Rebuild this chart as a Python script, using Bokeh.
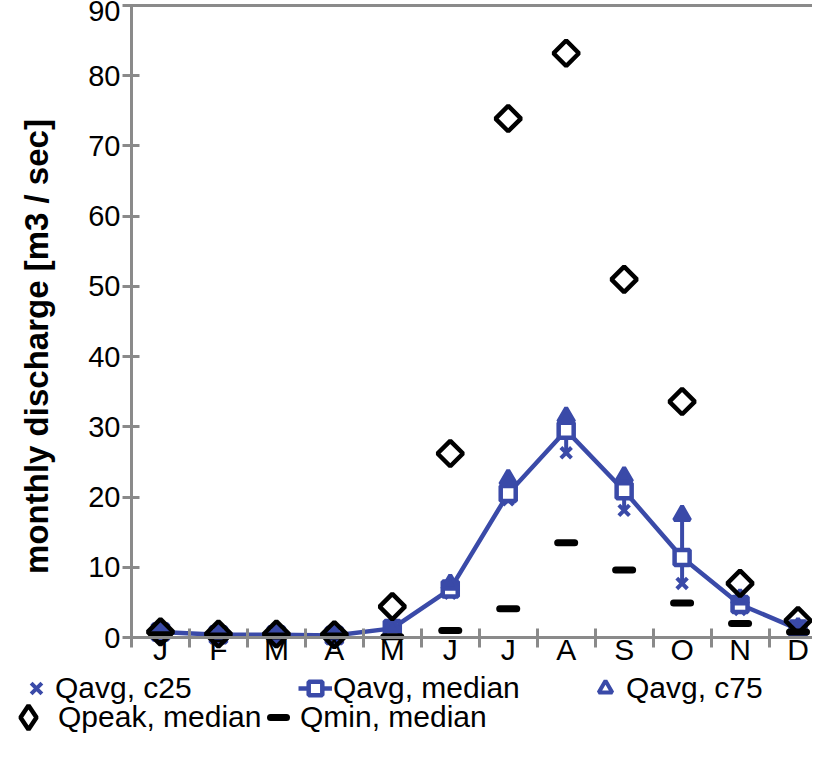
import math
from bokeh.plotting import figure
from bokeh.models import (FixedTicker, Legend, LegendItem, ColumnDataSource, Label,
                          Range1d, LinearAxis)
from bokeh.embed import file_html
from bokeh.resources import INLINE

# ---- data ----
months = ["J", "F", "M", "A", "M", "J", "J", "A", "S", "O", "N", "D"]
month_idx = [1, 2, 3, 4, 5, 6, 7, 8, 9, 10, 11, 12]
qavg_c25 = [0.6, 0.3, 0.3, 0.2, 1.0, 6.3, 19.6, 26.3, 18.1, 7.7, 4.0, 0.9]
qavg_median = [0.8, 0.4, 0.4, 0.3, 1.3, 6.9, 20.5, 29.5, 20.9, 11.4, 4.7, 1.2]
qavg_c75 = [1.0, 0.5, 0.5, 0.4, 1.5, 7.6, 22.5, 31.4, 22.9, 17.4, 5.5, 1.4]
qpeak_median = [0.8, 0.5, 0.5, 0.4, 4.4, 26.2, 73.9, 83.2, 51.0, 33.6, 7.7, 2.4]
qmin_median = [0.4, 0.2, 0.2, 0.2, 0.1, 1.0, 4.1, 13.5, 9.6, 4.9, 2.0, 0.8]
y_ticks = [0, 10, 20, 30, 40, 50, 60, 70, 80, 90]

BLUE = "#3a4aa8"
GREY = "#8a8a8a"
FONT = "Liberation Sans"

src = ColumnDataSource(dict(x=month_idx, c25=qavg_c25, med=qavg_median, c75=qavg_c75,
                            peak=qpeak_median, qmin=qmin_median))

# frame covers the whole canvas; axes are drawn at fixed data locations
p = figure(width=812, height=750, output_backend="svg", toolbar_location=None,
           x_range=Range1d(-1.76, 12.25), y_range=Range1d(-16.09, 90.71),
           x_axis_location=None, y_axis_location=None,
           min_border_left=0, min_border_right=0, min_border_top=0, min_border_bottom=0)
p.outline_line_color = None
p.xgrid.visible = False
p.ygrid.visible = False

xa = LinearAxis(fixed_location=0, bounds=(0.5, 12.25),
                ticker=FixedTicker(ticks=month_idx, minor_ticks=[i + 0.5 for i in range(13)]))
xa.major_label_overrides = {i: m for i, m in zip(month_idx, months)}
xa.major_tick_in = 0
xa.major_tick_out = 0
xa.minor_tick_in = 9
xa.minor_tick_out = 10
xa.minor_tick_line_width = 3
xa.minor_tick_line_color = GREY
xa.axis_line_color = GREY
xa.axis_line_width = 3
xa.major_label_standoff = -15
xa.major_label_text_font = FONT
xa.major_label_text_font_size = "30px"
xa.major_label_text_color = "black"
p.add_layout(xa, "below")

ya = LinearAxis(fixed_location=0.5, bounds=(0, 90),
                ticker=FixedTicker(ticks=y_ticks, minor_ticks=[]))
ya.major_tick_in = 8
ya.major_tick_out = 9
ya.major_tick_line_width = 3
ya.major_tick_line_color = GREY
ya.axis_line_color = GREY
ya.axis_line_width = 3
ya.major_label_standoff = 2
ya.major_label_text_font = FONT
ya.major_label_text_font_size = "29px"
ya.major_label_text_color = "black"
p.add_layout(ya, "left")

# top border of the plot area
top = LinearAxis(fixed_location=90, bounds=(0.5, 12.25),
                 ticker=FixedTicker(ticks=[], minor_ticks=[]))
top.axis_line_color = GREY
top.axis_line_width = 3
top.major_tick_out = 0
top.major_tick_in = 0
top.minor_tick_out = 0
top.minor_tick_in = 0
top.major_label_text_font_size = "0px"
p.add_layout(top, "above")

p.add_layout(Label(x=36, y=404, x_units="screen", y_units="screen",
                   text="monthly discharge [m3 / sec]", angle=math.pi / 2,
                   text_align="center", text_baseline="middle",
                   text_font=FONT, text_font_size="33px", text_font_style="bold",
                   text_color="black"))

# c25 - c75 range bars
p.segment(x0="x", y0="c25", x1="x", y1="c75", source=src, line_color=BLUE, line_width=4)

r_c25 = p.scatter("x", "c25", source=src, marker="x", size=15, line_color=BLUE, line_width=4)
r_line = p.line("x", "med", source=src, line_color=BLUE, line_width=4.5)
r_med = p.scatter("x", "med", source=src, marker="square", size=15, line_color=BLUE,
                  line_width=4.5, fill_color="white")
r_c75 = p.scatter("x", "c75", source=src, marker="triangle", size=16, line_color=BLUE,
                  line_width=4, fill_color=BLUE)
r_peak = p.scatter("x", "peak", source=src, marker="square", angle=0.785398, size=18,
                   line_color="black", line_width=4.5, fill_color=None)
r_min = p.scatter("x", "qmin", source=src, marker="dash", size=17, line_color="black",
                  line_width=7, line_cap="round")

# legend-only glyph styles (hidden in the plot, drawn only in the legend)
lg_c75 = p.scatter("x", "c75", source=src, marker="triangle", line_color=BLUE,
                   line_width=4, fill_color="white", visible=False)
lg_peak = p.scatter("x", "peak", source=src, marker="diamond", line_color="black",
                    line_width=4.5, fill_color=None, visible=False)


def add_legend(label, renderers, lx, ly, gw, gh, standoff=2):
    leg = Legend(items=[LegendItem(label=label, renderers=renderers)],
                 location=(lx, ly), orientation="horizontal", click_policy="none",
                 glyph_width=gw, glyph_height=gh, label_standoff=standoff,
                 label_text_font=FONT, label_text_font_size="30px",
                 label_text_color="black",
                 padding=0, margin=0, spacing=0,
                 border_line_alpha=0, background_fill_alpha=0)
    p.add_layout(leg)


add_legend("Qavg, c25", [r_c25], 17, 43, 38, 38, 0)
add_legend("Qavg, median", [r_line, r_med], 298, 45, 34, 34, 1)
add_legend("Qavg, c75", [lg_c75], 588, 45, 34, 34, 4)
add_legend("Qpeak, median", [lg_peak], -2, 3, 60, 60, 0)
add_legend("Qmin, median", [r_min], 258, 13, 40, 40, 2)

open("out.html", "w").write(file_html(p, INLINE))
